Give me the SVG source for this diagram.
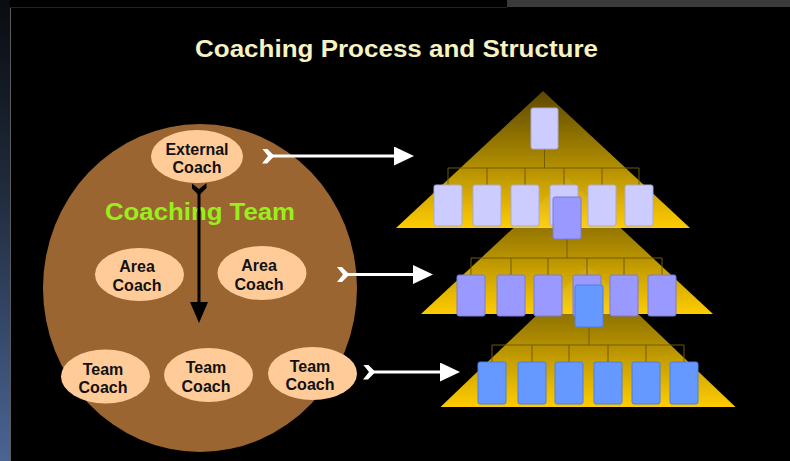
<svg xmlns="http://www.w3.org/2000/svg" width="790" height="461" viewBox="0 0 790 461">
  <style>
    .coach { fill: #ffcc99; }
    .lbl { font-family: "Liberation Sans", Arial, sans-serif; font-weight: bold; font-size: 16px; fill: #111; text-anchor: middle; }
    .org { stroke: #735a00; stroke-width: 1; fill: none; }
    .b1 { fill: #ccccff; stroke: #a9a9dc; stroke-width: 1; }
    .b2 { fill: #9999ff; stroke: #7a7ad6; stroke-width: 1; }
    .b3 { fill: #6699ff; stroke: #4f7fdc; stroke-width: 1; }
    .flow-w { stroke: #ffffff; stroke-width: 3; fill: none; }
    .flow-b { stroke: #000000; stroke-width: 3; fill: none; }
  </style>
  <defs>
    <linearGradient id="edge" x1="0" y1="0" x2="0" y2="1">
      <stop offset="0" stop-color="#0a0c10"/>
      <stop offset="0.4" stop-color="#1f2a3b"/>
      <stop offset="1" stop-color="#4a6594"/>
    </linearGradient>
    <linearGradient id="gold" x1="0" y1="0" x2="0" y2="1">
      <stop offset="0" stop-color="#5c4800"/>
      <stop offset="0.5" stop-color="#a98700"/>
      <stop offset="1" stop-color="#ffcc00"/>
    </linearGradient>
    <marker id="head-w" markerUnits="userSpaceOnUse" markerWidth="21" markerHeight="19" refX="0" refY="9.5" orient="auto">
      <path d="M0,0 L20,9.5 L0,19 Z" fill="#ffffff"/>
    </marker>
    <marker id="tail-w" markerUnits="userSpaceOnUse" markerWidth="12" markerHeight="15" refX="6" refY="7.5" orient="auto">
      <path d="M0,0 L6,7.5 L0,15 L5,15 L11,9 L11,6 L5,0 Z" fill="#ffffff"/>
    </marker>
    <marker id="head-b" markerUnits="userSpaceOnUse" markerWidth="22" markerHeight="18" refX="0" refY="9" orient="auto">
      <path d="M0,0 L21,9 L0,18 Z" fill="#000000"/>
    </marker>
    <marker id="tail-b" markerUnits="userSpaceOnUse" markerWidth="12" markerHeight="15" refX="6" refY="7.5" orient="auto">
      <path d="M0,0 L6,7.5 L0,15 L5,15 L11,9 L11,6 L5,0 Z" fill="#000000"/>
    </marker>
  </defs>

  <!-- backdrop -->
  <rect x="0" y="0" width="790" height="461" fill="#000000"/>
  <rect x="0" y="0" width="10" height="461" fill="url(#edge)"/>
  <line x1="10.5" y1="7" x2="10.5" y2="461" stroke="#5a5a5a" stroke-width="1"/>
  <line x1="10" y1="7.5" x2="507" y2="7.5" stroke="#222222" stroke-width="1"/>
  <rect x="507" y="0" width="283" height="7" fill="#3b3a3a"/>

  <!-- title -->
  <text x="396.5" y="57" font-family="Liberation Sans, Arial, sans-serif" font-weight="bold" font-size="23" fill="#f6f2c2" text-anchor="middle" textLength="403" lengthAdjust="spacingAndGlyphs">Coaching Process and Structure</text>

  <!-- coaching team -->
  <g id="coaching-team">
    <ellipse cx="200" cy="288" rx="157" ry="164" fill="#9a6531"/>
    <text x="200" y="220" font-family="Liberation Sans, Arial, sans-serif" font-weight="bold" font-size="23" fill="#99ee1c" text-anchor="middle" textLength="190" lengthAdjust="spacingAndGlyphs">Coaching Team</text>
  </g>
  <g id="external-coach">
    <ellipse class="coach" cx="197" cy="156.5" rx="46" ry="26.5"/>
    <text class="lbl" x="197" y="155">External</text>
    <text class="lbl" x="197" y="173">Coach</text>
  </g>
  <g id="area-coach-1">
    <ellipse class="coach" cx="139.5" cy="274.5" rx="44.5" ry="26.5"/>
    <text class="lbl" x="137" y="272">Area</text>
    <text class="lbl" x="137" y="291">Coach</text>
  </g>
  <g id="area-coach-2">
    <ellipse class="coach" cx="262" cy="273" rx="44.5" ry="27"/>
    <text class="lbl" x="259" y="271">Area</text>
    <text class="lbl" x="259" y="290">Coach</text>
  </g>
  <g id="team-coach-1">
    <ellipse class="coach" cx="105.5" cy="376.5" rx="44.5" ry="27"/>
    <text class="lbl" x="103" y="375">Team</text>
    <text class="lbl" x="103" y="393">Coach</text>
  </g>
  <g id="team-coach-2">
    <ellipse class="coach" cx="208.5" cy="375" rx="44.5" ry="27"/>
    <text class="lbl" x="206" y="373">Team</text>
    <text class="lbl" x="206" y="392">Coach</text>
  </g>
  <g id="team-coach-3">
    <ellipse class="coach" cx="312.5" cy="373.5" rx="44.5" ry="26.5"/>
    <text class="lbl" x="310" y="372">Team</text>
    <text class="lbl" x="310" y="390">Coach</text>
  </g>

  <!-- pyramids, lowest first so each upper one sits on top -->
  <g id="pyramid-3">
    <polygon points="588,266 735.5,407 440.5,407" fill="url(#gold)"/>
  </g>
  <g id="pyramid-2">
    <polygon points="567,178 713,314 421,314" fill="url(#gold)"/>
    <polygon points="588,266 638.2,314 537.8,314" fill="#ffffff" fill-opacity="0.07"/>
  </g>
  <g id="pyramid-1">
    <polygon points="543,91 690,228 396,228" fill="url(#gold)"/>
    <polygon points="567,178 620.7,228 513.3,228" fill="#ffffff" fill-opacity="0.07"/>
  </g>

  <!-- connectors -->
  <g id="connectors">
    <path class="org" d="M544.5,149 V168 M448,168 H639 M448,168 V185 M487,168 V185 M525,168 V185 M564,168 V185 M602,168 V185 M639,168 V185"/>
    <path class="org" d="M567,239 V258 M471,258 H662 M471,258 V275 M511,258 V275 M548,258 V275 M587,258 V275 M624,258 V275 M662,258 V275"/>
    <path class="org" d="M589,327 V345 M492,345 H684 M492,345 V362 M532,345 V362 M569,345 V362 M608,345 V362 M646,345 V362 M684,345 V362"/>

    <path class="flow-b" d="M199,189 V302" marker-start="url(#tail-b)" marker-end="url(#head-b)"/>
    <path class="flow-w" d="M268,156 H394" marker-start="url(#tail-w)" marker-end="url(#head-w)"/>
    <path class="flow-w" d="M343,274.5 H413" marker-start="url(#tail-w)" marker-end="url(#head-w)"/>
    <path class="flow-w" d="M369,372 H440" marker-start="url(#tail-w)" marker-end="url(#head-w)"/>
  </g>

  <!-- tier 1 roles -->
  <g id="t1-lead"><rect class="b1" x="531" y="108" width="27" height="41" rx="2"/></g>
  <g id="t1-a"><rect class="b1" x="434" y="185" width="28" height="41" rx="2"/></g>
  <g id="t1-b"><rect class="b1" x="473" y="185" width="28" height="41" rx="2"/></g>
  <g id="t1-c"><rect class="b1" x="511" y="185" width="28" height="41" rx="2"/></g>
  <g id="t1-d"><rect class="b1" x="550" y="185" width="28" height="41" rx="2"/></g>
  <g id="t1-e"><rect class="b1" x="588" y="185" width="28" height="41" rx="2"/></g>
  <g id="t1-f"><rect class="b1" x="625" y="185" width="28" height="41" rx="2"/></g>

  <!-- tier 2 roles -->
  <g id="t2-lead"><rect class="b2" x="553" y="197" width="28" height="42" rx="2"/></g>
  <g id="t2-a"><rect class="b2" x="457" y="275" width="28" height="41" rx="2"/></g>
  <g id="t2-b"><rect class="b2" x="497" y="275" width="28" height="41" rx="2"/></g>
  <g id="t2-c"><rect class="b2" x="534" y="275" width="28" height="41" rx="2"/></g>
  <g id="t2-d"><rect class="b2" x="573" y="275" width="28" height="41" rx="2"/></g>
  <g id="t2-e"><rect class="b2" x="610" y="275" width="28" height="41" rx="2"/></g>
  <g id="t2-f"><rect class="b2" x="648" y="275" width="28" height="41" rx="2"/></g>

  <!-- tier 3 roles -->
  <g id="t3-lead"><rect class="b3" x="575" y="285" width="28" height="42" rx="2"/></g>
  <g id="t3-a"><rect class="b3" x="478" y="362" width="28" height="42" rx="2"/></g>
  <g id="t3-b"><rect class="b3" x="518" y="362" width="28" height="42" rx="2"/></g>
  <g id="t3-c"><rect class="b3" x="555" y="362" width="28" height="42" rx="2"/></g>
  <g id="t3-d"><rect class="b3" x="594" y="362" width="28" height="42" rx="2"/></g>
  <g id="t3-e"><rect class="b3" x="632" y="362" width="28" height="42" rx="2"/></g>
  <g id="t3-f"><rect class="b3" x="670" y="362" width="28" height="42" rx="2"/></g>
</svg>
